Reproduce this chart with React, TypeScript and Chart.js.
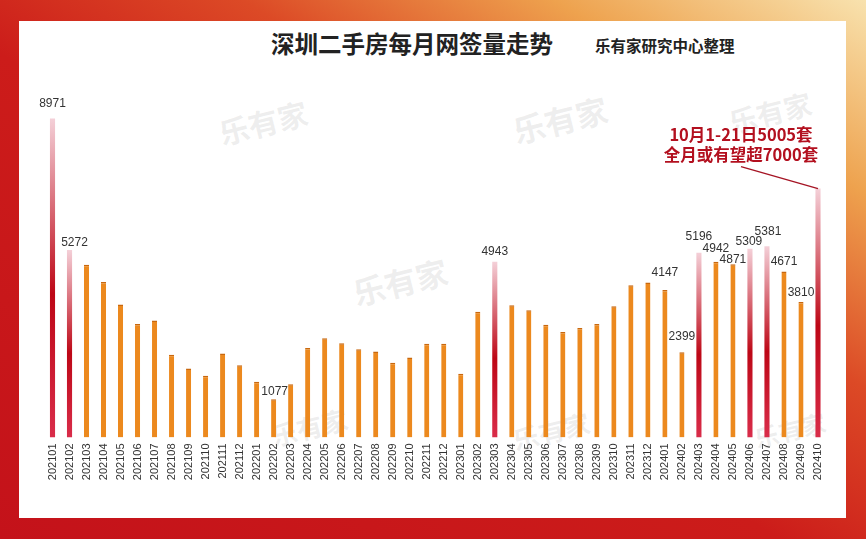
import { useEffect, useRef } from "react";
import { Chart, registerables } from "chart.js";

Chart.register(...registerables);

const months = [
  "202101", "202102", "202103", "202104", "202105", "202106", "202107", "202108", "202109", "202110", "202111", "202112",
  "202201", "202202", "202203", "202204", "202205", "202206", "202207", "202208", "202209", "202210", "202211", "202212",
  "202301", "202302", "202303", "202304", "202305", "202306", "202307", "202308", "202309", "202310", "202311", "202312",
  "202401", "202402", "202403", "202404", "202405", "202406", "202407", "202408", "202409", "202410",
];

const sales = [
  8971, 5272, 4860, 4370, 3740, 3190, 3290, 2330, 1940, 1740, 2360, 2030,
  1570, 1077, 1500, 2520, 2790, 2650, 2480, 2420, 2100, 2250, 2640, 2640,
  1790, 3540, 4943, 3720, 3580, 3170, 2970, 3080, 3190, 3690, 4280, 4360,
  4147, 2399, 5196, 4942, 4871, 5309, 5381, 4671, 3810, 7000,
];

const highlightMonths = ["202101", "202102", "202303", "202403", "202406", "202407", "202410"];

const labeledMonths = [
  "202101", "202102", "202202", "202303", "202401", "202402", "202403",
  "202404", "202405", "202406", "202407", "202408", "202409",
];

// small hand nudges of value labels (dx, dy above bar top)
const labelNudge: Record<string, [number, number]> = {
  "202101": [0, 15], "202102": [5, 7], "202202": [1, 8], "202303": [0, 10],
  "202401": [0, 17], "202402": [0, 16], "202403": [0, 16], "202404": [0, 13],
  "202405": [0, 5], "202406": [-1, 7], "202407": [1, 14], "202408": [0, 10],
  "202409": [0, 9],
};

const noteMonth = "202410";
const noteLines = ["10月1-21日5005套", "全月或有望超7000套"];

const titleText = "深圳二手房每月网签量走势";
const subtitleText = "乐有家研究中心整理";
const watermark = "乐有家";

const ORANGE = "#ec891e";
const ORANGE_CAP = "#c8680f";

export default function App() {
  const canvasRef = useRef<HTMLCanvasElement | null>(null);

  useEffect(() => {
    if (!canvasRef.current) return;

    const labelPlugin = {
      id: "valueLabels",
      afterDatasetsDraw(chart: any) {
        const ctx = chart.ctx as CanvasRenderingContext2D;
        const meta = chart.getDatasetMeta(0);
        ctx.save();
        ctx.font = "12px 'Liberation Sans', Arial, sans-serif";
        ctx.fillStyle = "#333333";
        ctx.textAlign = "center";
        ctx.textBaseline = "middle";
        months.forEach((m, i) => {
          if (!labeledMonths.includes(m)) return;
          const el = meta.data[i];
          const [dx, dy] = labelNudge[m] || [0, 10];
          ctx.fillText(String(sales[i]), el.x + dx, el.y - dy);
        });

        // annotation for the last month
        const ni = months.indexOf(noteMonth);
        const el = meta.data[ni];
        ctx.strokeStyle = "#a51424";
        ctx.lineWidth = 1.5;
        ctx.beginPath();
        ctx.moveTo(el.x - 77, el.y - 22);
        ctx.lineTo(el.x, el.y);
        ctx.stroke();
        ctx.fillStyle = "#b3101f";
        ctx.font = "bold 16.5px 'Noto Sans CJK SC', sans-serif";
        ctx.fillText(noteLines[0], el.x - 77, el.y - 54);
        ctx.fillText(noteLines[1], el.x - 77, el.y - 34);
        ctx.restore();
      },
    };

    const isHi = (i: number) => highlightMonths.includes(months[i]);

    const chart = new Chart(canvasRef.current, {
      type: "bar",
      data: {
        labels: months,
        datasets: [
          {
            data: sales,
            barPercentage: 0.3,
            categoryPercentage: 1,
            borderSkipped: "bottom",
            borderWidth: (c: any) => (isHi(c.dataIndex) ? 0 : { top: 1.5, left: 0, right: 0, bottom: 0 }),
            borderColor: ORANGE_CAP,
            backgroundColor: (c: any) => {
              const ch = c.chart;
              const i = c.dataIndex;
              if (!isHi(i)) return ORANGE;
              if (!ch.chartArea) return "#c8102e";
              const top = ch.scales.y.getPixelForValue(sales[i]);
              const bottom = ch.scales.y.getPixelForValue(0);
              const g = ch.ctx.createLinearGradient(0, top, 0, bottom);
              g.addColorStop(0, "#f4d0d8");
              g.addColorStop(0.55, "#bd0716");
              g.addColorStop(1, "#d92d4a");
              return g;
            },
          },
        ],
      },
      options: {
        responsive: true,
        maintainAspectRatio: false,
        animation: false,
        layout: { padding: { top: 117.5, left: 44, right: 39.5, bottom: 51.5 } },
        plugins: {
          legend: { display: false },
          tooltip: { enabled: false },
          title: { display: false },
        },
        scales: {
          x: {
            grid: { display: false, drawTicks: false, tickLength: 0 },
            border: { display: false },
            afterFit: (s: any) => {
              s.height = 50;
            },
            ticks: {
              autoSkip: false,
              maxRotation: 90,
              minRotation: 90,
              padding: 6,
              color: "#333333",
              font: { size: 11, family: "'Liberation Sans', Arial, sans-serif" },
            },
          },
          y: {
            display: false,
            min: 0,
            max: 9000,
          },
        },
      },
      plugins: [labelPlugin],
    });

    return () => chart.destroy();
  }, []);

  const wm = (left: number, top: number, size: number) => (
    <div
      style={{
        position: "absolute",
        left,
        top,
        fontFamily: "'Noto Sans CJK SC', sans-serif",
        fontWeight: 700,
        fontSize: size,
        color: "rgba(150,150,150,0.16)",
        transform: "rotate(-14deg)",
        whiteSpace: "nowrap",
        pointerEvents: "none",
      }}
    >
      {watermark}
    </div>
  );

  return (
    <div
      style={{
        position: "fixed",
        left: 0,
        top: 0,
        width: 866,
        height: 539,
        overflow: "hidden",
        background:
          "linear-gradient(to bottom left, #f8e2ae 0%, #eea24e 18%, #dc4a26 36%, #cc1c1a 55%, #c4121a 100%)",
      }}
    >
      <div
        style={{
          position: "absolute",
          left: 19,
          top: 21,
          width: 827,
          height: 497,
          background: "#ffffff",
        }}
      />
      {wm(218, 100, 30)}
      {wm(512, 96, 32)}
      {wm(728, 92, 28)}
      {wm(352, 258, 32)}
      {wm(270, 408, 26)}
      {wm(512, 412, 26)}
      {wm(754, 412, 24)}
      <div
        style={{
          position: "absolute",
          left: 271,
          top: 28,
          fontFamily: "'Noto Sans CJK SC', sans-serif",
          fontWeight: 700,
          fontSize: 23.5,
          lineHeight: "30px",
          color: "#222222",
          whiteSpace: "nowrap",
        }}
      >
        {titleText}
      </div>
      <div
        style={{
          position: "absolute",
          left: 595,
          top: 34,
          fontFamily: "'Noto Sans CJK SC', sans-serif",
          fontWeight: 700,
          fontSize: 15.5,
          lineHeight: "22px",
          color: "#222222",
          whiteSpace: "nowrap",
        }}
      >
        {subtitleText}
      </div>
      <canvas
        ref={canvasRef}
        style={{ position: "absolute", left: 0, top: 0, width: 866, height: 539 }}
      />
    </div>
  );
}
